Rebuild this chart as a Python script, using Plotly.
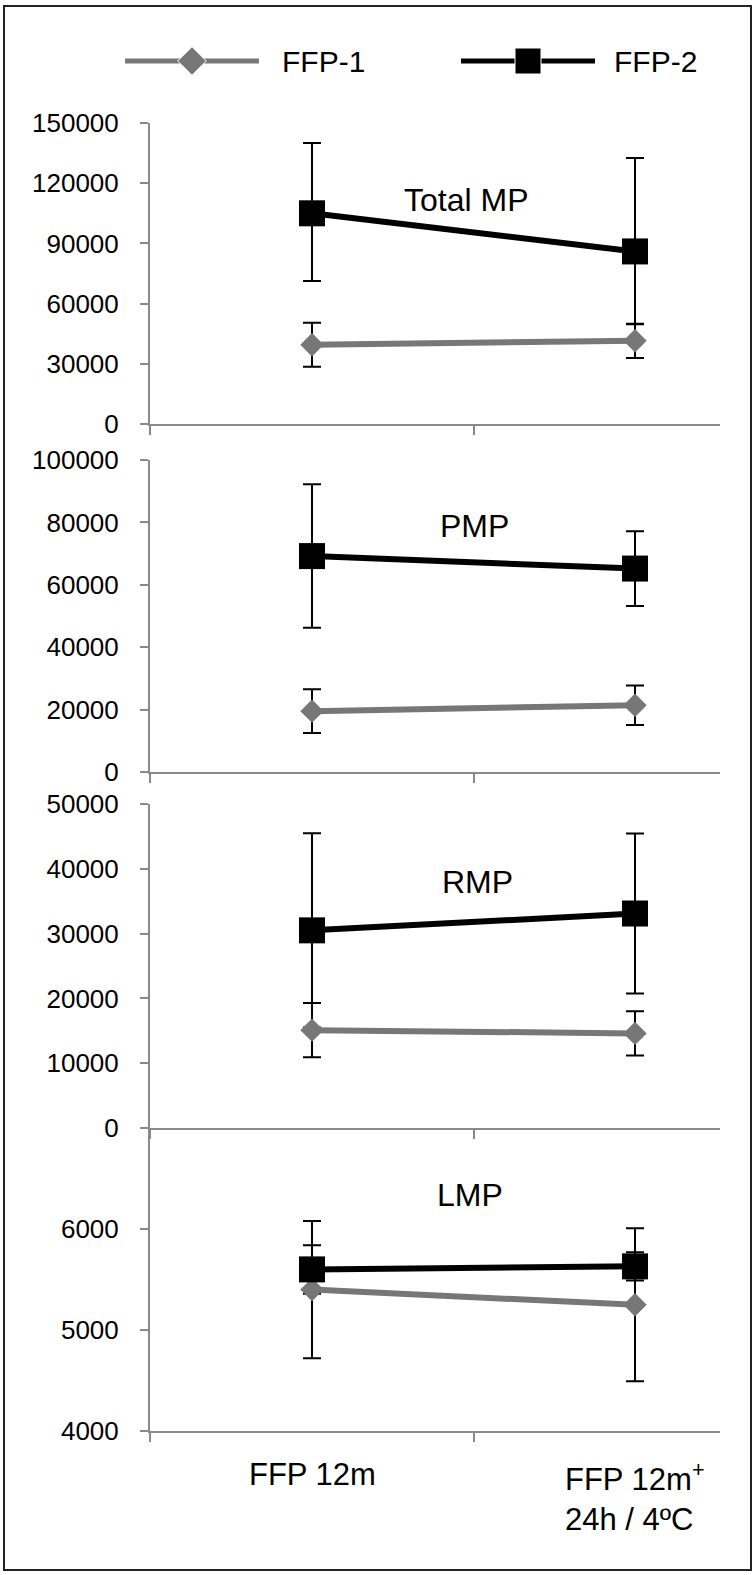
import plotly.graph_objects as go

W, H = 756, 1575

# data
categories = ["FFP 12m", "FFP 12m<sup>+</sup><br>24h / 4ºC"]
series_names = ["FFP-1", "FFP-2"]
panel_names = ["Total MP", "PMP", "RMP", "LMP"]

total_ffp1 = [39500, 41500]
total_ffp1_up = [11000, 8500]
total_ffp1_dn = [11000, 8600]
total_ffp2 = [105000, 86000]
total_ffp2_up = [35000, 46600]
total_ffp2_dn = [33700, 36300]

pmp_ffp1 = [19500, 21400]
pmp_ffp1_err = [7000, 6300]
pmp_ffp2 = [69200, 65200]
pmp_ffp2_err = [23000, 12000]

rmp_ffp1 = [15100, 14600]
rmp_ffp1_err = [4200, 3400]
rmp_ffp2 = [30500, 33100]
rmp_ffp2_err = [15000, 12350]

lmp_ffp1 = [5400, 5250]
lmp_ffp1_err = [680, 757]
lmp_ffp2 = [5600, 5630]
lmp_ffp2_err = [240, 140]

y_ranges = [[0, 150000], [0, 100000], [0, 50000], [4000, 7000]]
y_ticks = [list(range(0, 150001, 30000)), list(range(0, 100001, 20000)),
           list(range(0, 50001, 10000)), [4000, 5000, 6000]]

GREY = "#777777"
AXC = "#8a8a8a"
FONT = "Liberation Sans, Arial, sans-serif"


def py(p):
    return 1 - p / H


def px(p):
    return p / W


# pixel boxes (top, bottom) of each panel
boxes = [(123, 424), (460, 772), (804, 1128), (1128, 1431)]
x_left, x_right = 150, 720
pt0, pt1 = 312, 635
unit = pt1 - pt0
xr = [(x_left - pt0) / unit, (x_right - pt0) / unit]

panels = [
    (total_ffp1, total_ffp1_up, total_ffp1_dn, total_ffp2, total_ffp2_up, total_ffp2_dn),
    (pmp_ffp1, pmp_ffp1_err, pmp_ffp1_err, pmp_ffp2, pmp_ffp2_err, pmp_ffp2_err),
    (rmp_ffp1, rmp_ffp1_err, rmp_ffp1_err, rmp_ffp2, rmp_ffp2_err, rmp_ffp2_err),
    (lmp_ffp1, lmp_ffp1_err, lmp_ffp1_err, lmp_ffp2, lmp_ffp2_err, lmp_ffp2_err),
]

xs = list(range(len(categories)))
fig = go.Figure()
layout = {}
annotations = []

for i, (f1, f1u, f1d, f2, f2u, f2d) in enumerate(panels):
    n = i + 1
    xa = "x" if n == 1 else "x%d" % n
    ya = "y" if n == 1 else "y%d" % n
    # error bars first so markers sit on top
    for vals, up, dn in [(f2, f2u, f2d), (f1, f1u, f1d)]:
        fig.add_trace(go.Scatter(
            x=xs, y=vals, mode="markers", xaxis=xa, yaxis=ya,
            marker=dict(size=1, color="rgba(0,0,0,0)"),
            error_y=dict(type="data", array=up, arrayminus=dn, symmetric=False,
                         color="black", thickness=2, width=9),
            showlegend=False, hoverinfo="skip"))
    fig.add_trace(go.Scatter(
        x=xs, y=f1, mode="lines+markers", xaxis=xa, yaxis=ya, name=series_names[0],
        line=dict(color=GREY, width=6),
        marker=dict(symbol="diamond", size=18, color=GREY), showlegend=False))
    fig.add_trace(go.Scatter(
        x=xs, y=f2, mode="lines+markers", xaxis=xa, yaxis=ya, name=series_names[1],
        line=dict(color="black", width=6),
        marker=dict(symbol="square", size=26, color="black"), showlegend=False))

    top, bot = boxes[i]
    layout["xaxis" if n == 1 else "xaxis%d" % n] = dict(
        domain=[px(x_left), px(x_right)], range=xr, anchor=ya, automargin=False,
        showline=True, linecolor=AXC, linewidth=2, showgrid=False, zeroline=False,
        tickmode="array", tickvals=[xr[0] + 1e-6, 0.5], ticks="outside",
        ticklen=9, tickwidth=2, tickcolor=AXC, showticklabels=False)
    layout["yaxis" if n == 1 else "yaxis%d" % n] = dict(
        domain=[py(bot), py(top)], range=y_ranges[i], anchor=xa, automargin=False,
        showline=True, linecolor=AXC, linewidth=2, showgrid=False, zeroline=False,
        tickmode="array", tickvals=y_ticks[i], tickformat="d", ticks="outside", ticklen=8,
        tickwidth=2, tickcolor=AXC, ticklabelstandoff=16,
        tickfont=dict(family=FONT, size=26, color="black"))

# panel titles
title_pos = [(466, 180), (475, 526), (477, 882), (470, 1215)]
for name, (tx, ty) in zip(panel_names, title_pos):
    annotations.append(dict(text=name, x=px(tx), y=py(ty), xref="paper", yref="paper",
                            showarrow=False, font=dict(family=FONT, size=32, color="black")))

# category labels under the bottom panel
for xv, lab in zip(xs, categories):
    annotations.append(dict(text=lab, x=xv, y=py(1455), xref="x4", yref="paper",
                            xanchor="center", yanchor="top", align="left", showarrow=False,
                            font=dict(family=FONT, size=31, color="black")))

# custom legend on a hidden axis
legend_items = [(125, 259, 280, "diamond", 22, GREY), (461, 595, 612, "square", 26, "black")]
for name, (l0, l1, tx, sym, sz, col) in zip(series_names, legend_items):
    fig.add_trace(go.Scatter(
        x=[l0, (l0 + l1) / 2, l1], y=[0, 0, 0], mode="lines+markers", xaxis="x5", yaxis="y5",
        line=dict(color=col, width=5),
        marker=dict(symbol=sym, size=[0, sz, 0], color=col, opacity=1),
        showlegend=False, hoverinfo="skip"))
    annotations.append(dict(text=name, x=tx, y=0, xref="x5", yref="y5", xanchor="left",
                            showarrow=False, font=dict(family=FONT, size=30, color="black")))
layout["xaxis5"] = dict(domain=[0, 1], range=[0, W], visible=False, anchor="y5")
layout["yaxis5"] = dict(domain=[py(81), py(41)], range=[-1, 1], visible=False, anchor="x5")

fig.update_layout(
    width=W, height=H, margin=dict(l=0, r=0, t=0, b=0, pad=0, autoexpand=False),
    paper_bgcolor="white", plot_bgcolor="white", showlegend=False,
    annotations=annotations,
    shapes=[dict(type="rect", xref="paper", yref="paper", x0=px(4), x1=px(751),
                 y0=py(1570), y1=py(6), line=dict(color="#222222", width=2))],
    **layout)

fig.write_html("out.html", config={"displayModeBar": False},
               post_script="document.body.style.margin='0';")
